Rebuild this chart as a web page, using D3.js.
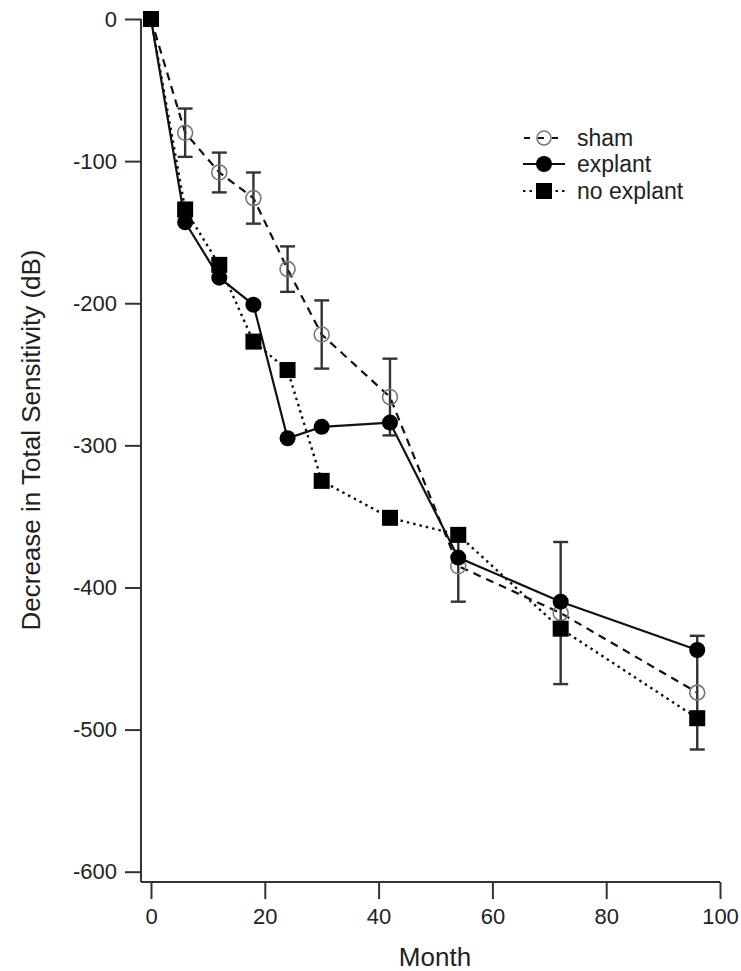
<!DOCTYPE html>
<html>
<head>
<meta charset="utf-8">
<script src="https://d3js.org/d3.v7.min.js"></script>
<style>
  body { margin: 0; background: #fff; }
  text { font-family: "Liberation Sans", Arial, sans-serif; fill: #222; }
</style>
</head>
<body>
<div id="chart"></div>
<script>
// data
var months = [0, 6, 12, 18, 24, 30, 42, 54, 72, 96];
var sham      = [0, -80, -108, -126, -176, -222, -266, -385, -418, -474];
var shamErr   = [0, 17, 14, 18, 16, 24, 27, 25, 50, 40];
var explant   = [0, -143, -182, -201, -295, -287, -284, -379, -410, -444];
var noExplant = [0, -134, -173, -227, -247, -325, -351, -363, -429, -492];
var xTicks = [0, 20, 40, 60, 80, 100];
var yTicks = [0, -100, -200, -300, -400, -500, -600];
var legendLabels = ["sham", "explant", "no explant"];

var W = 741, H = 971;
var svg = d3.select("#chart").append("svg")
  .attr("width", W).attr("height", H);

var x = d3.scaleLinear().domain([0, 100]).range([151, 720]);
var y = d3.scaleLinear().domain([0, -600]).range([19, 871.7]);

var axisColor = "#333";
var xAxisY = 882, yAxisX = 141;
var fmt = function(d) { return String(d); };  // plain hyphen, not unicode minus

// x axis
var gx = svg.append("g").attr("transform", "translate(0," + xAxisY + ")")
  .call(d3.axisBottom(x).tickValues(xTicks).tickSize(17).tickPadding(9).tickFormat(fmt));
gx.select(".domain").remove();
gx.append("line").attr("x1", yAxisX).attr("x2", x(100)).attr("y1", 0).attr("y2", 0)
  .attr("stroke", axisColor).attr("stroke-width", 2);
gx.selectAll(".tick line").attr("stroke", axisColor).attr("stroke-width", 2);
gx.selectAll(".tick text").style("font-size", "22px").attr("fill", "#222");

// y axis
var gy = svg.append("g").attr("transform", "translate(" + yAxisX + ",0)")
  .call(d3.axisLeft(y).tickValues(yTicks).tickSize(16).tickPadding(8).tickFormat(fmt));
gy.select(".domain").remove();
gy.append("line").attr("x1", 0).attr("x2", 0).attr("y1", y(0)).attr("y2", xAxisY)
  .attr("stroke", axisColor).attr("stroke-width", 2);
gy.selectAll(".tick line").attr("stroke", axisColor).attr("stroke-width", 2);
gy.selectAll(".tick text").style("font-size", "22px").attr("fill", "#222");

// axis titles
svg.append("text").attr("x", 435).attr("y", 966).attr("text-anchor", "middle")
  .style("font-size", "26px").text("Month");
svg.append("text").attr("transform", "translate(40,440) rotate(-90)")
  .attr("text-anchor", "middle").style("font-size", "26px")
  .text("Decrease in Total Sensitivity (dB)");

var line = d3.line().x(function(d) { return x(d[0]); }).y(function(d) { return y(d[1]); });
function pts(vals) { return months.map(function(m, i) { return [m, vals[i]]; }); }

// series lines
svg.append("path").attr("d", line(pts(sham))).attr("fill", "none")
  .attr("stroke", "#111").attr("stroke-width", 2.2).attr("stroke-dasharray", "8,6");
svg.append("path").attr("d", line(pts(explant))).attr("fill", "none")
  .attr("stroke", "#111").attr("stroke-width", 2.2);
svg.append("path").attr("d", line(pts(noExplant))).attr("fill", "none")
  .attr("stroke", "#111").attr("stroke-width", 2.4).attr("stroke-dasharray", "2.5,4");

// error bars for sham
var eb = svg.append("g").selectAll("g")
  .data(months.map(function(m, i) { return {m: m, v: sham[i], e: shamErr[i]}; })
    .filter(function(d) { return d.e > 0; }))
  .enter().append("g");
eb.append("line").attr("x1", function(d) { return x(d.m); }).attr("x2", function(d) { return x(d.m); })
  .attr("y1", function(d) { return y(d.v + d.e); }).attr("y2", function(d) { return y(d.v - d.e); })
  .attr("stroke", "#333").attr("stroke-width", 2.4);
[1, -1].forEach(function(s) {
  eb.append("line").attr("x1", function(d) { return x(d.m) - 7.5; }).attr("x2", function(d) { return x(d.m) + 7.5; })
    .attr("y1", function(d) { return y(d.v + s * d.e); }).attr("y2", function(d) { return y(d.v + s * d.e); })
    .attr("stroke", "#333").attr("stroke-width", 2.4);
});

// markers
svg.append("g").selectAll("circle").data(pts(sham)).enter().append("circle")
  .attr("cx", function(d) { return x(d[0]); }).attr("cy", function(d) { return y(d[1]); })
  .attr("r", 7.5).attr("fill", "none").attr("stroke", "#777").attr("stroke-width", 1.6);
svg.append("g").selectAll("circle").data(pts(explant)).enter().append("circle")
  .attr("cx", function(d) { return x(d[0]); }).attr("cy", function(d) { return y(d[1]); })
  .attr("r", 8).attr("fill", "#000");
svg.append("g").selectAll("rect").data(pts(noExplant)).enter().append("rect")
  .attr("x", function(d) { return x(d[0]) - 8; }).attr("y", function(d) { return y(d[1]) - 8; })
  .attr("width", 16).attr("height", 16).attr("fill", "#000");

// legend
var legY = [138, 164, 191];
var leg = svg.append("g");
legendLabels.forEach(function(lbl, i) {
  var ly = legY[i];
  var ln = leg.append("line").attr("x1", 523).attr("x2", 565).attr("y1", ly).attr("y2", ly)
    .attr("stroke", "#111").attr("stroke-width", 2.2);
  if (i === 0) ln.attr("stroke-dasharray", "6,8").attr("stroke-dashoffset", -1);
  if (i === 2) ln.attr("stroke-dasharray", "2.5,4");
  if (i === 0) leg.append("circle").attr("cx", 544).attr("cy", ly).attr("r", 7)
    .attr("fill", "none").attr("stroke", "#777").attr("stroke-width", 1.6);
  if (i === 1) leg.append("circle").attr("cx", 544).attr("cy", ly).attr("r", 8).attr("fill", "#000");
  if (i === 2) leg.append("rect").attr("x", 536).attr("y", ly - 8).attr("width", 16).attr("height", 16).attr("fill", "#000");
  leg.append("text").attr("x", 577).attr("y", ly + 8).style("font-size", "23px").text(lbl);
});
</script>
</body>
</html>
